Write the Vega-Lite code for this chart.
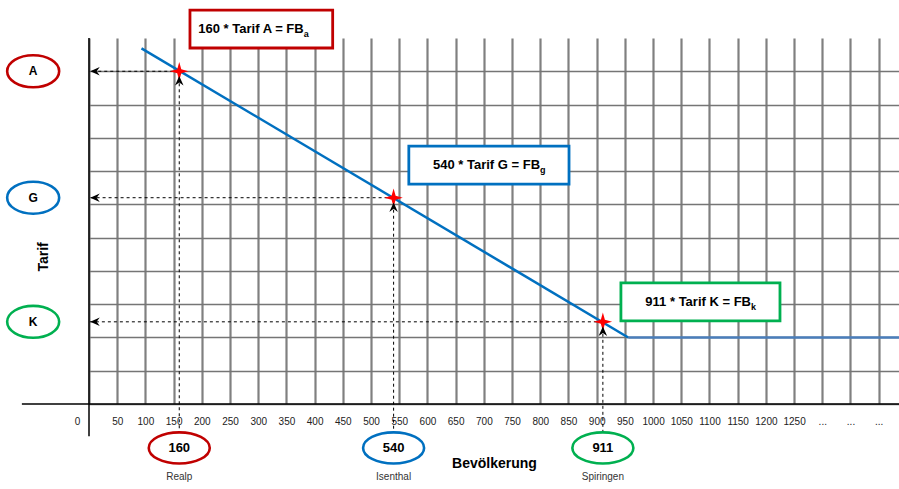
{
  "$schema": "https://vega.github.io/schema/vega-lite/v6.json",
  "width": 810,
  "height": 366,
  "autosize": {"type": "none"},
  "padding": {"left": 89, "top": 38, "right": 0, "bottom": 85},
  "background": "white",
  "config": {"view": {"stroke": null}, "font": "Liberation Sans"},
  "resolve": {"axis": {"x": "independent", "y": "independent"}},
  "datasets": {
    "line": [
      {"seg": "slope", "pop": 93, "level": 10.69},
      {"seg": "slope", "pop": 956, "level": 2.0},
      {"seg": "flat", "pop": 956, "level": 2.0},
      {"seg": "flat", "pop": 1436, "level": 2.0}
    ],
    "towns": [
      {"town": "Realp", "pop": 160, "tarif": "A", "level": 10},
      {"town": "Isenthal", "pop": 540, "tarif": "G", "level": 6.2},
      {"town": "Spiringen", "pop": 911, "tarif": "K", "level": 2.47}
    ],
    "boxes": [
      {"tarif": "A", "text": "160 * Tarif A = FB", "sub": "a", "x1": 179, "x2": 432, "ylo": 10.7, "yhi": 11.84},
      {"tarif": "G", "text": "540 * Tarif G = FB", "sub": "g", "x1": 567, "x2": 851, "ylo": 6.61, "yhi": 7.75},
      {"tarif": "K", "text": "911 * Tarif K = FB", "sub": "k", "x1": 943, "x2": 1225, "ylo": 2.5, "yhi": 3.64}
    ]
  },
  "layer": [
    {
      "data": {"name": "line"},
      "mark": {"type": "line", "strokeWidth": 2.5},
      "encoding": {
        "x": {
          "field": "pop", "type": "quantitative",
          "scale": {"domain": [0, 1436], "nice": false, "zero": false},
          "axis": {
            "values": [0,50,100,150,200,250,300,350,400,450,500,550,600,650,700,750,800,850,900,950,1000,1050,1100,1150,1200,1250,1300,1350,1400],
            "tickCount": 29,
            "format": "d",
            "grid": true, "gridColor": "#808080", "gridWidth": 2.2,
            "domain": false, "ticks": false,
            "labelFont": "Liberation Sans", "labelFontSize": 10, "labelColor": "#222222",
            "labelPadding": 12, "labelFlush": false, "labelOverlap": false,
            "labelExpr": "datum.value > 1250 ? '...' : datum.label",
            "labelOffset": {"condition": {"test": "datum.value === 0", "value": -12}, "value": 0},
            "title": "Bevölkerung", "titleFont": "Liberation Sans", "titleFontSize": 14,
            "titleFontWeight": "bold", "titleColor": "#000000", "titlePadding": 30
          }
        },
        "y": {
          "field": "level", "type": "quantitative",
          "scale": {"domain": [0, 11], "nice": false, "zero": false},
          "axis": {
            "values": [0,1,2,3,4,5,6,7,8,9,10],
            "tickCount": 11,
            "grid": true, "gridColor": "#757575", "gridWidth": 1.6,
            "domain": false, "ticks": false, "labels": false, "title": null
          }
        },
        "color": {"field": "seg", "type": "nominal", "scale": {"domain": ["slope", "flat"], "range": ["#0070C0", "#4A7EBB"]}, "legend": null}
      }
    },
    {
      "data": {"values": [{}]},
      "mark": {"type": "rule", "color": "black", "strokeWidth": 1.5},
      "encoding": {"x": {"datum": -119, "axis": null}, "x2": {"datum": 1436}, "y": {"datum": 0, "axis": null}}
    },
    {
      "data": {"values": [{}]},
      "mark": {"type": "rule", "color": "black", "strokeWidth": 1.5},
      "encoding": {"x": {"datum": 0, "axis": null}, "y": {"datum": 11, "axis": null}, "y2": {"datum": -0.97}}
    },
    {
      "data": {"name": "towns"},
      "mark": {"type": "rule", "color": "black", "strokeWidth": 1, "strokeDash": [3, 3]},
      "encoding": {"x": {"field": "pop", "type": "quantitative", "axis": null}, "x2": {"datum": 0}, "y": {"field": "level", "type": "quantitative", "axis": null}}
    },
    {
      "data": {"name": "towns"},
      "mark": {"type": "rule", "color": "black", "strokeWidth": 1, "strokeDash": [3, 3]},
      "encoding": {"x": {"field": "pop", "type": "quantitative", "axis": null}, "y": {"field": "level", "type": "quantitative", "axis": null}, "y2": {"datum": -0.87}}
    },
    {
      "data": {"name": "towns"},
      "mark": {"type": "point", "shape": "M0,-1L0.22,-0.22L1,0L0.22,0.22L0,1L-0.22,0.22L-1,0L-0.22,-0.22Z", "filled": true, "color": "#FF0000", "size": 340, "opacity": 1, "strokeWidth": 0},
      "encoding": {"x": {"field": "pop", "type": "quantitative", "axis": null}, "y": {"field": "level", "type": "quantitative", "axis": null}}
    },
    {
      "data": {"name": "towns"},
      "mark": {"type": "point", "shape": "M0,-1L0.9,1L0,0.35L-0.9,1Z", "filled": true, "color": "black", "size": 90, "opacity": 1, "yOffset": 9.5, "strokeWidth": 0},
      "encoding": {"x": {"field": "pop", "type": "quantitative", "axis": null}, "y": {"field": "level", "type": "quantitative", "axis": null}}
    },
    {
      "data": {"name": "towns"},
      "mark": {"type": "point", "shape": "M-1,0L1,-0.9L0.35,0L1,0.9Z", "filled": true, "color": "black", "size": 90, "opacity": 1, "xOffset": 6, "strokeWidth": 0},
      "encoding": {"x": {"datum": 0, "axis": null}, "y": {"field": "level", "type": "quantitative", "axis": null}}
    },
    {
      "data": {"name": "towns"},
      "mark": {"type": "point", "shape": "M-1,0A1,0.615,0,1,1,1,0A1,0.615,0,1,1,-1,0Z", "filled": true, "fill": "white", "strokeWidth": 2.6, "size": 2704, "opacity": 1},
      "encoding": {
        "x": {"datum": -99, "axis": null}, "y": {"field": "level", "type": "quantitative", "axis": null},
        "stroke": {"field": "tarif", "type": "nominal", "scale": {"domain": ["A", "G", "K"], "range": ["#C00000", "#0070C0", "#00B050"]}, "legend": null}
      }
    },
    {
      "data": {"name": "towns"},
      "mark": {"type": "text", "font": "Liberation Sans", "fontWeight": "bold", "fontSize": 12, "color": "black", "baseline": "middle", "align": "center"},
      "encoding": {"x": {"datum": -99, "axis": null}, "y": {"field": "level", "type": "quantitative", "axis": null}, "text": {"field": "tarif", "type": "nominal"}}
    },
    {
      "data": {"name": "towns"},
      "mark": {"type": "point", "shape": "M-1,0A1,0.51,0,1,1,1,0A1,0.51,0,1,1,-1,0Z", "filled": true, "fill": "white", "strokeWidth": 2.6, "size": 3721, "opacity": 1},
      "encoding": {
        "x": {"field": "pop", "type": "quantitative", "axis": null}, "y": {"datum": -1.32, "axis": null},
        "stroke": {"field": "tarif", "type": "nominal", "legend": null}
      }
    },
    {
      "data": {"name": "towns"},
      "mark": {"type": "text", "font": "Liberation Sans", "fontWeight": "bold", "fontSize": 13, "color": "black", "baseline": "middle", "align": "center"},
      "encoding": {"x": {"field": "pop", "type": "quantitative", "axis": null}, "y": {"datum": -1.32, "axis": null}, "text": {"field": "pop", "type": "nominal"}}
    },
    {
      "data": {"name": "towns"},
      "mark": {"type": "text", "font": "Liberation Sans", "fontSize": 10, "color": "#333333", "baseline": "middle", "align": "center"},
      "encoding": {"x": {"field": "pop", "type": "quantitative", "axis": null}, "y": {"datum": -2.19, "axis": null}, "text": {"field": "town", "type": "nominal"}}
    },
    {
      "data": {"values": [{}]},
      "mark": {"type": "text", "font": "Liberation Sans", "fontWeight": "bold", "fontSize": 14, "color": "black", "baseline": "middle", "align": "center", "angle": 270},
      "encoding": {"x": {"datum": -80, "axis": null}, "y": {"datum": 4.42, "axis": null}, "text": {"value": "Tarif"}}
    },
    {
      "data": {"name": "boxes"},
      "mark": {"type": "rect", "fill": "white", "strokeWidth": 2.8},
      "encoding": {
        "x": {"field": "x1", "type": "quantitative", "axis": null}, "x2": {"field": "x2"},
        "y": {"field": "ylo", "type": "quantitative", "axis": null}, "y2": {"field": "yhi"},
        "stroke": {"field": "tarif", "type": "nominal", "legend": null}
      }
    },
    {
      "data": {"name": "boxes"},
      "mark": {"type": "text", "font": "Liberation Sans", "fontWeight": "bold", "fontSize": 13, "color": "black", "baseline": "middle", "align": "right", "xOffset": -29, "yOffset": -19},
      "encoding": {"x": {"field": "x2", "type": "quantitative", "axis": null}, "y": {"field": "ylo", "type": "quantitative", "axis": null}, "text": {"field": "text", "type": "nominal"}}
    },
    {
      "data": {"name": "boxes"},
      "mark": {"type": "text", "font": "Liberation Sans", "fontWeight": "bold", "fontSize": 9, "color": "black", "baseline": "middle", "align": "left", "xOffset": -29, "yOffset": -14},
      "encoding": {"x": {"field": "x2", "type": "quantitative", "axis": null}, "y": {"field": "ylo", "type": "quantitative", "axis": null}, "text": {"field": "sub", "type": "nominal"}}
    }
  ]
}
